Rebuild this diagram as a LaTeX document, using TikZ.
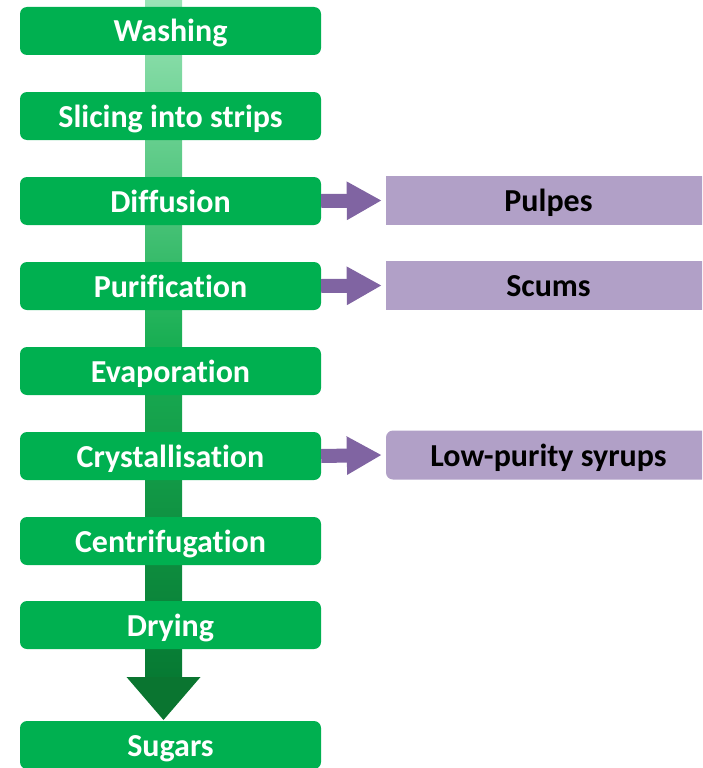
\documentclass[tikz,border=0pt]{standalone}
\usepackage{fontspec}
\setmainfont{Carlito}[Ligatures=NoCommon]
\usetikzlibrary{arrows.meta,backgrounds}
\definecolor{boxgreen}{HTML}{00B050}
\definecolor{boxpurple}{HTML}{B1A0C7}
\definecolor{arrpurple}{HTML}{8064A2}
\definecolor{shtop}{HTML}{9AE4B6}
\definecolor{shmid}{HTML}{1AAF54}
\definecolor{shbot}{HTML}{077A33}
\definecolor{headgreen}{HTML}{0A7530}
\pgfdeclareverticalshading{bigarrow}{100bp}{color(0bp)=(shbot); color(25bp)=(shbot); color(50bp)=(shmid); color(75bp)=(shtop); color(100bp)=(shtop)}
\tikzset{
  stepbox/.style={fill=boxgreen, rounded corners=7pt, minimum width=301pt, minimum height=48pt,
    inner sep=0pt, text height=22pt, text depth=0pt, text=white, font=\bfseries\fontsize{32}{38}\selectfont},
  outbox/.style={fill=boxpurple, minimum width=325pt, minimum height=49pt,
    inner sep=0pt, text height=22pt, text depth=0pt, text=black, font=\bfseries\fontsize{32}{38}\selectfont},
  outarrow/.style={draw=arrpurple, line width=14pt, -{Triangle[length=35pt,width=36pt]}}
}
\begin{document}
\begin{tikzpicture}[x=1pt,y=-1pt]
\useasboundingbox (0,0) rectangle (702,768);
\clip (0,0) rectangle (702,768);
\node[stepbox] (wash) at (170.5,31) {Washing};
\node[stepbox] (slic) at (170.5,116) {Slicing into strips};
\node[stepbox] (diff) at (170.5,201) {Diffusion};
\node[stepbox] (puri) at (170.5,286) {Purification};
\node[stepbox] (evap) at (170.5,371) {Evaporation};
\node[stepbox] (crys) at (170.5,456) {Crystallisation};
\node[stepbox] (cent) at (170.5,541) {Centrifugation};
\node[stepbox] (dryi) at (170.5,625) {Drying};
\node[stepbox] (suga) at (170.5,745) {Sugars};
\node[outbox] (pulp) at (548.5,200.5) {Pulpes};
\node[outbox] (scum) at (548.5,285.5) {Scums};
\node[outbox, rounded corners=7pt] (syru) at (548.5,455) {Low-purity syrups};
\draw[outarrow] (diff.east) -- ([xshift=-4pt]pulp.west);
\draw[outarrow] (puri.east) -- ([xshift=-4pt]scum.west);
\draw[outarrow] (crys.east) -- ([xshift=-4pt]syru.west);
\coordinate (atop) at (163.5,0);
\coordinate (atip) at (163.5,720);
\begin{pgfonlayer}{background}
\shade[shading=bigarrow]
  ([xshift=-18.5pt]atop) rectangle ([xshift=18.5pt,yshift=43pt]atip);
\fill[headgreen] ([xshift=-37pt,yshift=43pt]atip) -- ([xshift=37pt,yshift=43pt]atip) -- (atip) -- cycle;
\end{pgfonlayer}
\end{tikzpicture}
\end{document}
